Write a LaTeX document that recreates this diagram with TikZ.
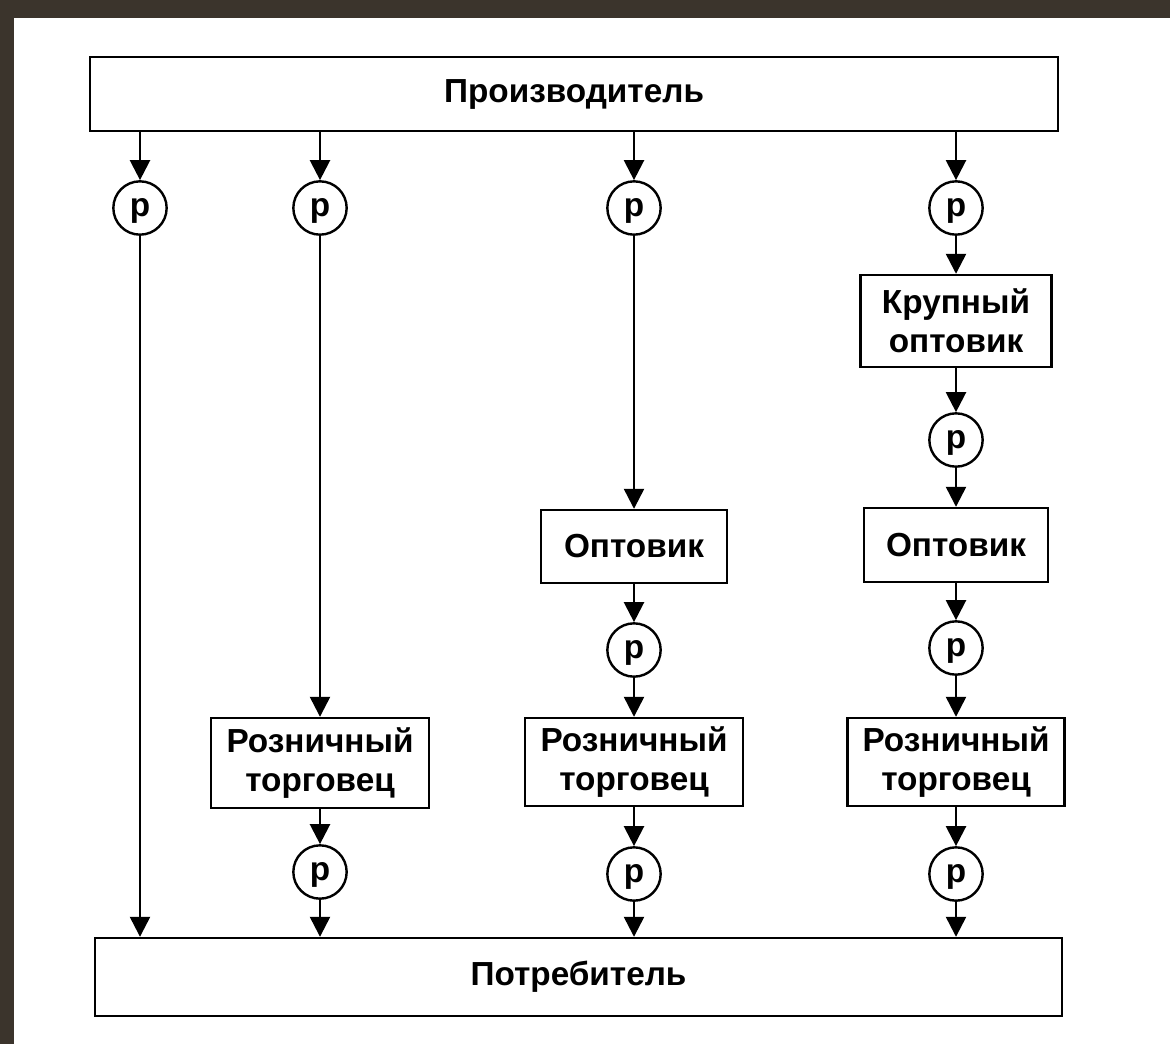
\documentclass[tikz,border=0pt]{standalone}
\usepackage{fontspec}
\setmainfont{Liberation Sans}
\usetikzlibrary{arrows.meta}

\begin{document}
\begin{tikzpicture}[x=0.75pt,y=0.75pt,yscale=-1,xscale=1,
  box/.style={draw,line width=1.8pt,fill=white,inner sep=0.75pt,align=center,font=\bfseries\fontsize{25}{29}\selectfont},
  pcirc/.style={draw,circle,line width=1.8pt,minimum size=40pt,inner sep=0pt,text height=13pt,text depth=0pt,font=\bfseries\fontsize{25}{29}\selectfont},
  flow/.style={line width=1.8pt,-{Triangle[length=15pt,width=15pt]}}]
\useasboundingbox (0,0) rectangle (1170,1044);
%set diagram with the dark frame of the scan
\fill[fill={rgb, 255:red, 59; green, 52; blue, 44 }] (0,0) rectangle (1170,1044);
\fill[white] (14,18) rectangle (1170,1044);

%Shape: Rectangle [id:top]
\node (prod) at (574,94) [box,minimum width=726pt,minimum height=55.5pt] {Производитель};
%Shape: Rectangle [id:bottom]
\node (cons) at (578.5,977) [box,minimum width=725.25pt,minimum height=58.5pt] {Потребитель};

%Shape: Circle
\node (pa) at (140,208) [pcirc] {р};
\node (pb) at (320,208) [pcirc] {р};
\node (pc) at (634,208) [pcirc] {р};
\node (pd) at (956,208) [pcirc] {р};

%Shape: Rectangle
\node (krup) at (956,321) [box,minimum width=143.25pt,minimum height=69pt] {Крупный\\оптовик};
\node (pdk) at (956,440) [pcirc] {р};
\node (optc) at (634,546.5) [box,minimum width=139.5pt,minimum height=54.75pt] {Оптовик};
\node (optd) at (956,545) [box,minimum width=138pt,minimum height=55.5pt] {Оптовик};
\node (pco) at (634,650) [pcirc] {р};
\node (pdo) at (956,648) [pcirc] {р};
\node (rozb) at (320,763) [box,minimum width=163.5pt,minimum height=67.5pt] {Розничный\\торговец};
\node (rozc) at (634,762) [box,minimum width=163.5pt,minimum height=66pt] {Розничный\\торговец};
\node (rozd) at (956,762) [box,minimum width=162.75pt,minimum height=66pt] {Розничный\\торговец};
\node (pbr) at (320,872) [pcirc] {р};
\node (pcr) at (634,874) [pcirc] {р};
\node (pdr) at (956,874) [pcirc] {р};

%Straight Lines
\draw[flow] (prod.south -| pa) -- (pa);
\draw[flow] (prod.south -| pb) -- (pb);
\draw[flow] (prod.south -| pc) -- (pc);
\draw[flow] (prod.south -| pd) -- (pd);

\draw[flow] (pa) -- (cons.north -| pa);

\draw[flow] (pb) -- (rozb);
\draw[flow] (rozb) -- (pbr);
\draw[flow] (pbr) -- (cons.north -| pbr);

\draw[flow] (pc) -- (optc);
\draw[flow] (optc) -- (pco);
\draw[flow] (pco) -- (rozc);
\draw[flow] (rozc) -- (pcr);
\draw[flow] (pcr) -- (cons.north -| pcr);

\draw[flow] (pd) -- (krup);
\draw[flow] (krup) -- (pdk);
\draw[flow] (pdk) -- (optd);
\draw[flow] (optd) -- (pdo);
\draw[flow] (pdo) -- (rozd);
\draw[flow] (rozd) -- (pdr);
\draw[flow] (pdr) -- (cons.north -| pdr);

\end{tikzpicture}
\end{document}
